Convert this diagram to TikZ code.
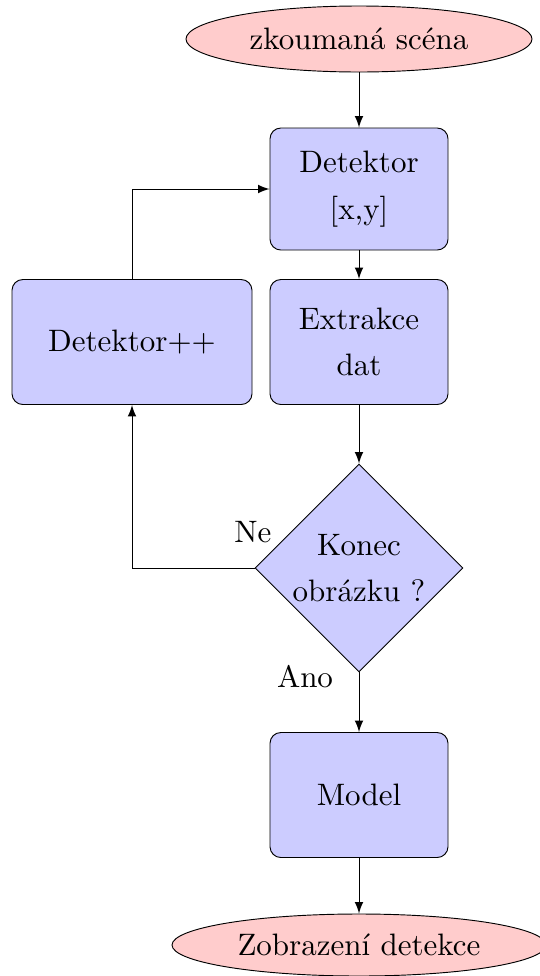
\documentclass[tikz,border=0pt]{standalone}
\usepackage{fontspec}
\usetikzlibrary{shapes.geometric,arrows}
\def\pxu{0.3225pt}
\begin{document}
\begin{tikzpicture}[x=\pxu,y=-\pxu, line width=0.3pt,
  every node/.style={font=\fontsize{10}{15}\selectfont, align=center},
  procbox/.style={rectangle, rounded corners=3.5pt, draw=black, fill=blue!20, inner sep=0pt},
  termell/.style={ellipse, draw=black, fill=red!20, inner sep=0pt},
  decis/.style={diamond, aspect=1, draw=black, fill=blue!20, inner sep=0pt, minimum size=208*\pxu},
  conn/.style={draw, ->, >=latex},
  lbl/.style={inner sep=0pt}]
\useasboundingbox (0,0) rectangle (539,976);
\node[termell, minimum width=346*\pxu, minimum height=66*\pxu] (start) at (359,39) {zkoumaná scéna};
\node[procbox, minimum width=178*\pxu, minimum height=122*\pxu] (det) at (359,189) {Detektor\\{[x,y]}};
\node[procbox, minimum width=178*\pxu, minimum height=125*\pxu] (ext) at (359,342) {Extrakce\\dat};
\node[procbox, minimum width=240*\pxu, minimum height=125*\pxu] (dpp) at (132,342) {Detektor++};
\node[decis] (dec) at (359,568) {Konec\\obrázku ?};
\node[procbox, minimum width=178*\pxu, minimum height=125*\pxu] (model) at (359,795) {Model};
\node[termell, minimum width=374*\pxu, minimum height=62*\pxu] (stop) at (359,945) {Zobrazení detekce};
\node[lbl] (ne) at (253,532) {Ne};
\node[lbl] (ano) at (305,677) {Ano};
\draw[conn] (start) -- (det);
\draw[conn] (det) -- (ext);
\draw[conn] (ext) -- (dec);
\draw[conn] (dec) -- (model);
\draw[conn] (model) -- (stop);
\draw[conn] (dec.west) -| (dpp.south);
\draw[conn] (dpp.north) |- (det.west);
\end{tikzpicture}
\end{document}
